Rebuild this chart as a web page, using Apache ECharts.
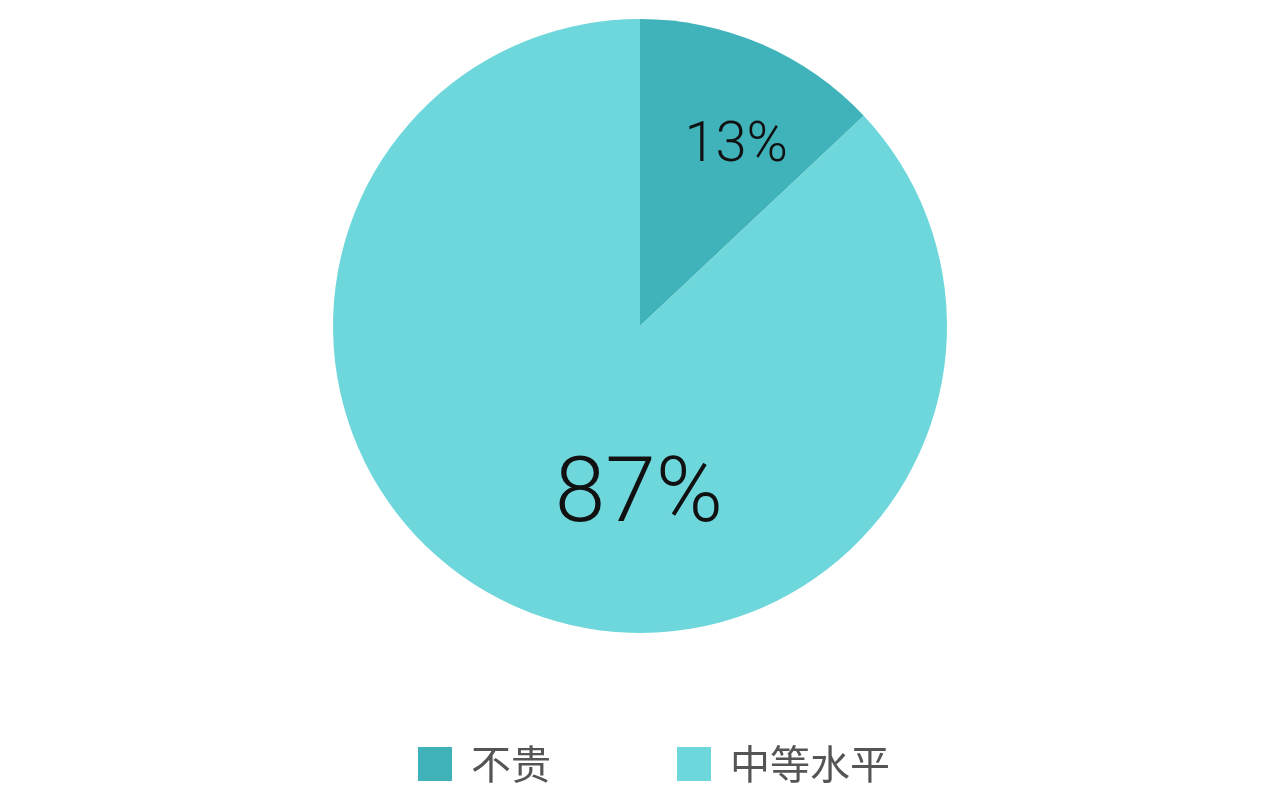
<!DOCTYPE html>
<html>
<head>
<meta charset="utf-8">
<script src="https://cdn.jsdelivr.net/npm/echarts@6/dist/echarts.min.js"></script>
<style>
html,body{margin:0;padding:0;background:#fff;}
#main{width:1280px;height:811px;}
</style>
</head>
<body>
<div id="main"></div>
<script>
const categories = ['不贵', '中等水平'];
const values = [13, 87];
const colors = ['#40b2ba', '#6ed7dc'];
const labelSizes = [56, 91];
const labelShift = [[34, -35], [61, 29]];

const chart = echarts.init(document.getElementById('main'));
chart.setOption({
  backgroundColor: '#ffffff',
  animation: false,
  legend: {
    data: categories,
    left: 418,
    top: 744,
    padding: 0,
    itemWidth: 34,
    itemHeight: 34,
    itemGap: 126,
    icon: 'rect',
    textStyle: {
      fontFamily: 'Noto Sans CJK SC',
      fontSize: 40,
      color: '#555555',
      padding: [0, 0, 0, 14]
    }
  },
  series: [{
    type: 'pie',
    center: [640, 326],
    radius: [0, 307],
    startAngle: 90,
    clockwise: true,
    silent: true,
    label: {
      show: true,
      position: 'inside',
      formatter: '{d}%',
      color: '#111111',
      fontFamily: 'Roboto',
      fontWeight: 300
    },
    labelLine: { show: false },
    labelLayout: function (p) {
      return { dx: labelShift[p.dataIndex][0], dy: labelShift[p.dataIndex][1] };
    },
    data: categories.map((c, i) => ({
      name: c,
      value: values[i],
      itemStyle: { color: colors[i] },
      label: { fontSize: labelSizes[i] }
    }))
  }]
});
</script>
</body>
</html>
